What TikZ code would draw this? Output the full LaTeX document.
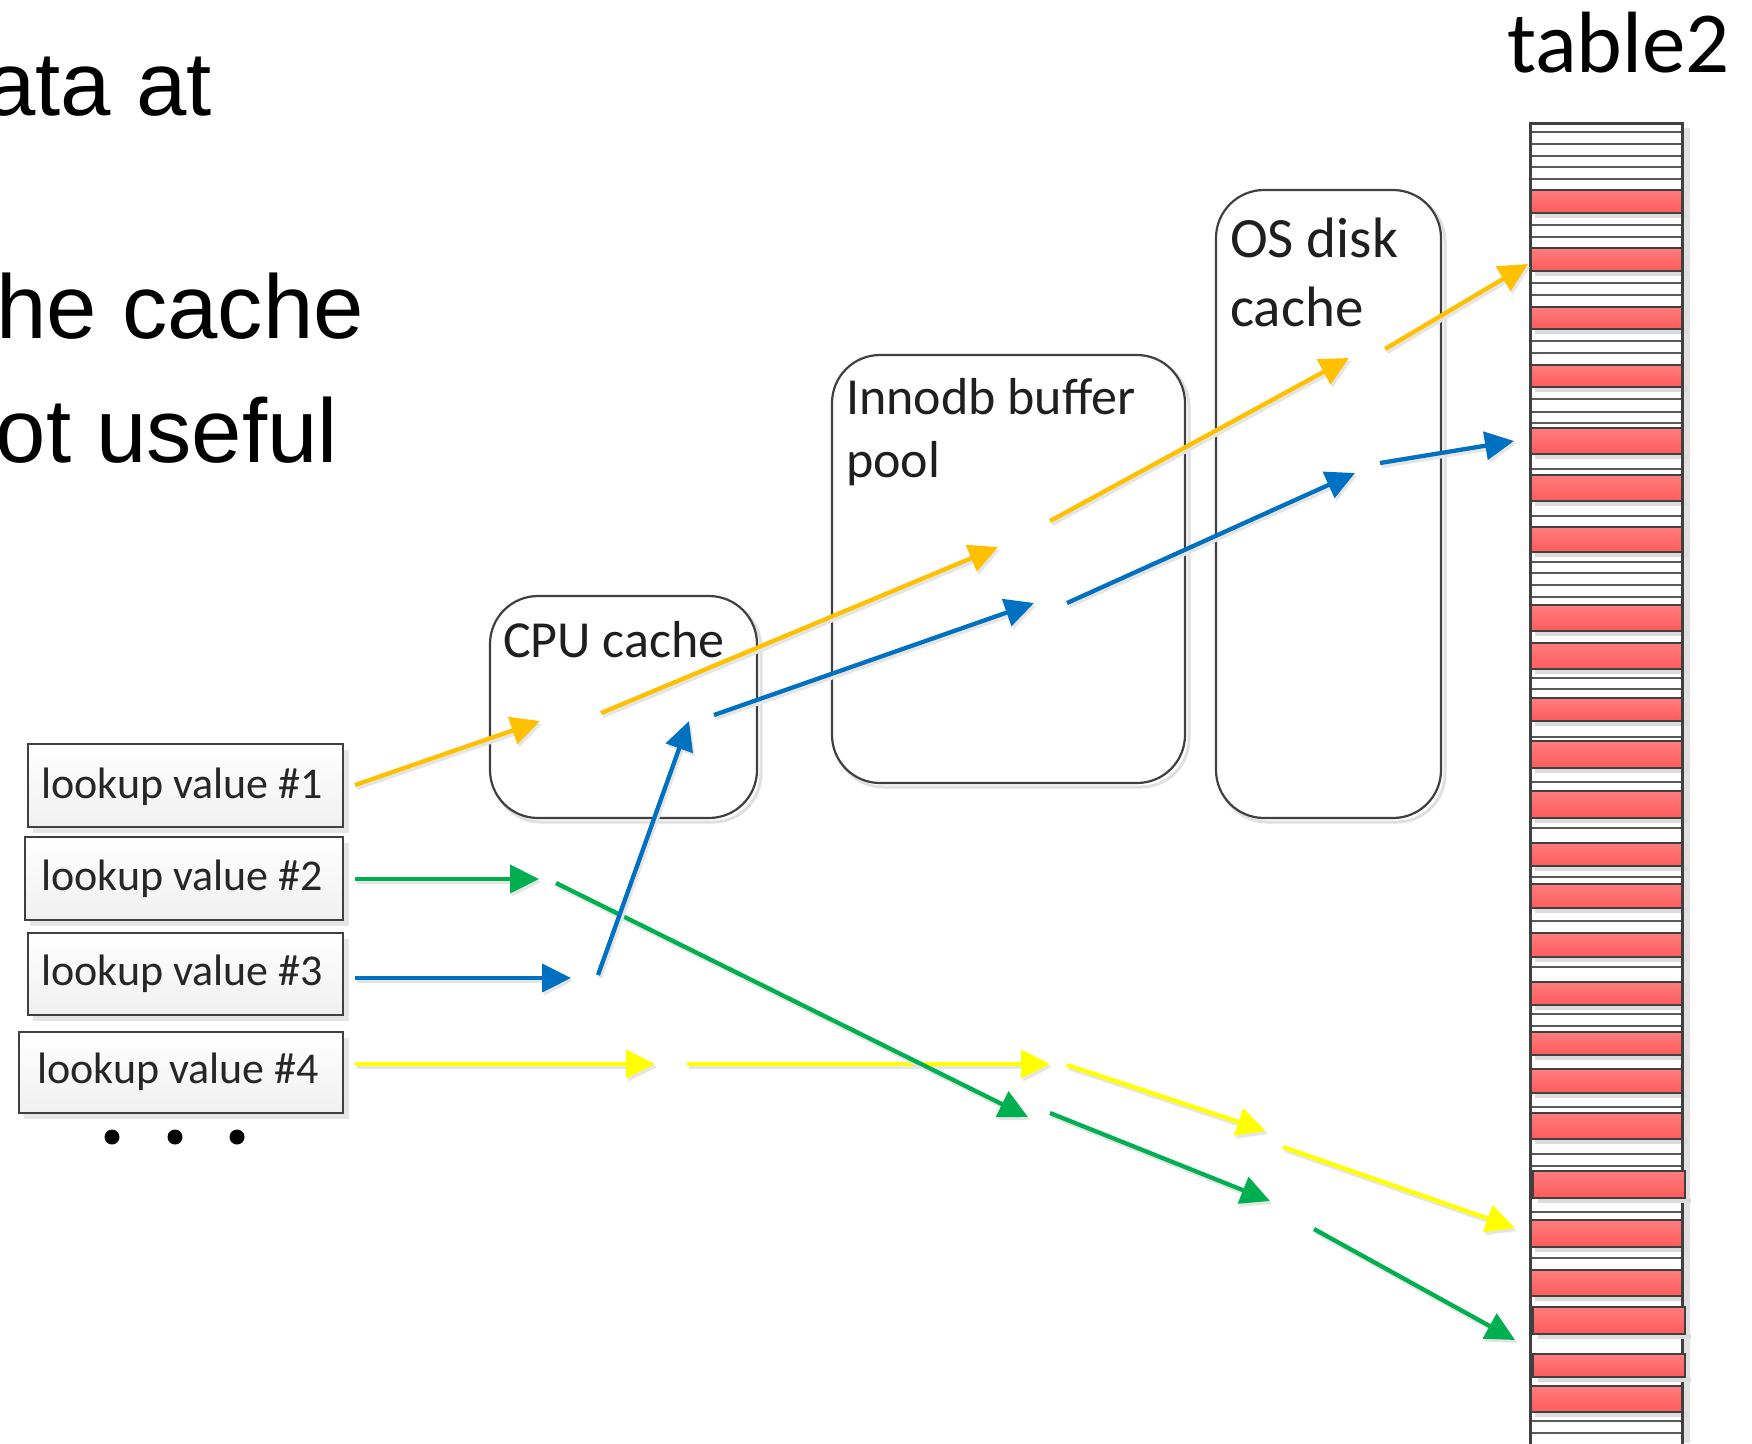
\documentclass[tikz,border=0pt]{standalone}
\usepackage{fontspec}
\setmainfont{Carlito}
\newfontfamily\arialfont{Liberation Sans}
\usetikzlibrary{arrows.meta}
\definecolor{dk}{HTML}{404040}
\definecolor{ln}{HTML}{595959}
\definecolor{aorange}{HTML}{FFC000}
\definecolor{ablue}{HTML}{0070C0}
\definecolor{agreen}{HTML}{00B050}
\definecolor{ayellow}{HTML}{FFFF00}
\definecolor{redtop}{HTML}{FF7D7D}
\definecolor{redbot}{HTML}{FF5B5B}
\tikzset{
  flow/.style={line width=4.3pt, -{Triangle[length=29pt,width=28pt]}},
  flowshadow/.style={line width=4.3pt, draw=black!10, -{Triangle[length=29pt,width=28pt]}},
  cachebox/.style={draw=dk, line width=2.2pt, rounded corners=48pt},
  boxshadow/.style={draw=black!12, line width=3pt, rounded corners=48pt},
  lookbox/.style={draw=dk, line width=2.5pt, top color=white, bottom color=black!6, inner sep=0pt},
  lookshadow/.style={fill=black!10},
  looktext/.style={font=\fontsize{44}{50}\selectfont, text=black!85, inner sep=0pt, anchor=base west},
  cachetext/.style={font=\fontsize{52}{60}\selectfont, text=black!88, inner sep=0pt, anchor=base west},
  ostext/.style={font=\fontsize{57}{66}\selectfont, text=black!88, inner sep=0pt, anchor=base west},
  bigtext/.style={font=\arialfont\fontsize{90.5}{100}\selectfont, inner sep=0pt, anchor=base east},
  rowline/.style={draw=ln, line width=2.2pt},
  redrow/.style={draw=dk, line width=2.8pt, top color=redtop, bottom color=redbot},
  redshadow/.style={fill=black!14},
  tborder/.style={draw=dk, line width=3pt},
}
\newcommand\flowarrow[3]{%
  \draw[flowshadow] ([shift={(2,3)}]#2) -- ([shift={(2,3)}]#3);
  \draw[flow, draw=#1, fill=#1] (#2) -- (#3);}
\begin{document}
\begin{tikzpicture}[x=1pt, y=-1pt]
\useasboundingbox (0,0) rectangle (1752,1443);
\clip (0,0) rectangle (1752,1443);
\fill[white] (0,0) rectangle (1752,1443);

% top-left text (cut at the left edge, as in the reference)
\node[bigtext] (t1) at (212,115) {ata at};
\node[bigtext] (t2) at (364,338) {he cache};
\node[bigtext] (t3) at (338,462) {ot useful};

% table2 label
\node[font=\fontsize{87}{96}\selectfont, inner sep=0pt, anchor=base west] (tlabel) at (1507,72) {table2};

% cache boxes
\draw[boxshadow] (493,600) rectangle (761,822);
\draw[cachebox, fill=white] (490,596) rectangle (757,818);
\node[cachetext] (cpu) at (503,657) {CPU cache};

\draw[boxshadow] (835,359) rectangle (1189,787);
\draw[cachebox, fill=white] (832,355) rectangle (1185,783);
\node[cachetext] (inno1) at (846,414) {Innodb buffer};
\node[cachetext] (inno2) at (846,477) {pool};

\draw[boxshadow] (1219,194) rectangle (1445,822);
\draw[cachebox, fill=white] (1216,190) rectangle (1441,818);
\node[ostext] (os1) at (1230,257) {OS disk};
\node[ostext] (os2) at (1230,326) {cache};

% lookup boxes
\fill[lookshadow] (33,750) rectangle (349,833);
\node[lookbox, minimum width=315pt, minimum height=83pt] (l1) at (185.5,785.5) {};
\node[looktext] (lt1) at (41,798) {lookup value \#1};
\fill[lookshadow] (30,843) rectangle (349,926);
\node[lookbox, minimum width=318pt, minimum height=83pt] (l2) at (184,878.5) {};
\node[looktext] (lt2) at (41,890) {lookup value \#2};
\fill[lookshadow] (33,939) rectangle (349,1021);
\node[lookbox, minimum width=315pt, minimum height=82pt] (l3) at (185.5,974) {};
\node[looktext] (lt3) at (41,985) {lookup value \#3};
\fill[lookshadow] (24,1038) rectangle (349,1119);
\node[lookbox, minimum width=324pt, minimum height=81pt] (l4) at (181,1072.5) {};
\node[looktext] (lt4) at (37,1083) {lookup value \#4};

\foreach \dx in {112,175,237} \fill (\dx,1137) circle (7.5);

% table2 column
\fill[black!12] (1682,128) rectangle (1690,1443);
\fill[white] (1530,123) rectangle (1682,1450);
\foreach \ly in {132,144,156,167,179,225,237,283,295,341,353,399,412,423,469,516,562,573,585,597,678,689,737,782,828,877,921,967,1014,1026,1107,1154,1166,1212,1258,1421,1433}
  \draw[rowline] (1530,\ly) -- (1682,\ly);
\foreach \ya/\yb in {190/213,248/271,307/329,365/387,428/454,475/501,527/552,605/631,643/669,698/721,741/768,791/818,843/866,884/908,933/957,982/1005,1032/1055,1069/1093,1113/1139,1220/1247,1270/1296,1386/1412}{
  \fill[redshadow] (1535,\yb) rectangle (1688,\yb+5);
  \draw[redrow] (1530,\ya) rectangle (1682,\yb);
}
\draw[tborder] (1530,1450) -- (1530,123) -- (1682,123) -- (1682,1450);
\foreach \ya/\yb in {1171/1198,1307/1334,1354/1377}{
  \fill[redshadow] (1538,\yb) rectangle (1691,\yb+5);
  \draw[redrow] (1533,\ya) rectangle (1685,\yb);
}
\coordinate (tbl) at (1530,123);

% arrow coordinates
\coordinate (o0) at (355,785);  \coordinate (o1) at (540,721);
\coordinate (o2) at (601,713);  \coordinate (o3) at (998,547);
\coordinate (o4) at (1050,521); \coordinate (o5) at (1349,358);
\coordinate (o6) at (1385,349); \coordinate (o7) at (1528,264);

\coordinate (b0) at (355,978);  \coordinate (b1) at (571,978);
\coordinate (b2) at (598,975);  \coordinate (b3) at (689,721);
\coordinate (b4) at (714,715);  \coordinate (b5) at (1034,603);
\coordinate (b6) at (1067,603); \coordinate (b7) at (1355,473);
\coordinate (b8) at (1380,463); \coordinate (b9) at (1514,441);

\coordinate (g0) at (355,879);  \coordinate (g1) at (539,879);
\coordinate (g2) at (556,883);  \coordinate (g3) at (1028,1117);
\coordinate (g4) at (1050,1113); \coordinate (g5) at (1270,1201);
\coordinate (g6) at (1314,1229); \coordinate (g7) at (1515,1340);

\coordinate (yl0) at (355,1064);  \coordinate (yl1) at (655,1064);
\coordinate (yl2) at (687,1064);  \coordinate (yl3) at (1050,1064);
\coordinate (yl4) at (1067,1065); \coordinate (yl5) at (1266,1131);
\coordinate (yl6) at (1283,1147); \coordinate (yl7) at (1515,1228);

% arrows
\flowarrow{ayellow}{yl0}{yl1}
\flowarrow{ayellow}{yl2}{yl3}
\flowarrow{ayellow}{yl4}{yl5}
\flowarrow{ayellow}{yl6}{yl7}

\flowarrow{agreen}{g0}{g1}
\flowarrow{agreen}{g2}{g3}
\flowarrow{agreen}{g4}{g5}
\flowarrow{agreen}{g6}{g7}

\flowarrow{aorange}{o0}{o1}
\flowarrow{aorange}{o2}{o3}
\flowarrow{aorange}{o4}{o5}
\flowarrow{aorange}{o6}{o7}

\flowarrow{ablue}{b0}{b1}
\flowarrow{ablue}{b2}{b3}
\flowarrow{ablue}{b4}{b5}
\flowarrow{ablue}{b6}{b7}
\flowarrow{ablue}{b8}{b9}
\end{tikzpicture}
\end{document}
